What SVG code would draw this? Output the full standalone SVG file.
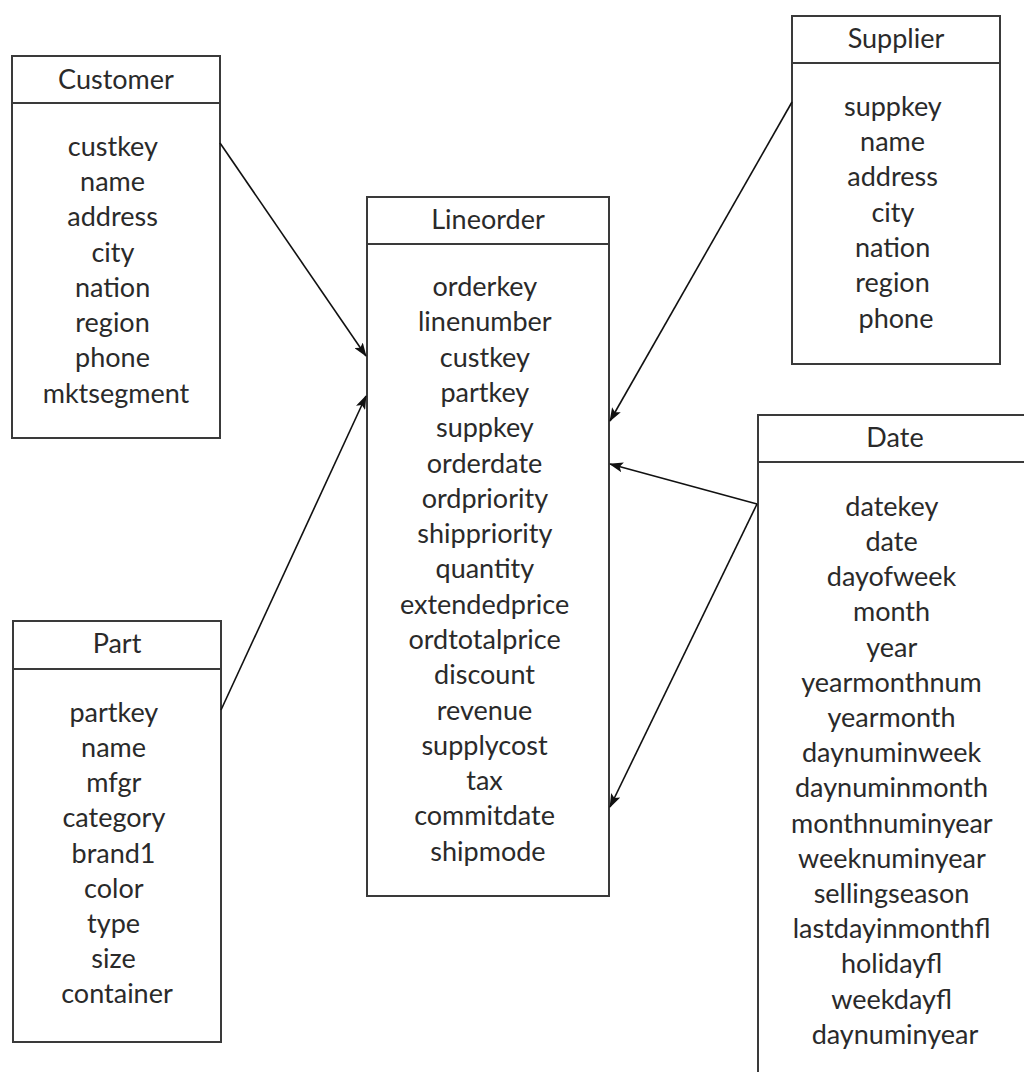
<svg xmlns="http://www.w3.org/2000/svg" width="1024" height="1072" viewBox="0 0 1024 1072">
  <style>
    .box { fill: #ffffff; stroke: #3a3a3a; stroke-width: 2; }
    .div { stroke: #3a3a3a; stroke-width: 2; }
    .t { font-family: Lato, "Liberation Sans", sans-serif; font-size: 27px; fill: #2a2a2a; text-anchor: middle; }
    .link { stroke: #111111; stroke-width: 1.6; fill: none; marker-end: url(#head); }
  </style>
  <defs>
    <marker id="head" viewBox="0 0 14 10" refX="13" refY="5" markerWidth="14" markerHeight="10" markerUnits="userSpaceOnUse" orient="auto">
      <path d="M0,0 L14,5 L0,10 L3,5 z" fill="#111111"/>
    </marker>
  </defs>
  <rect width="1024" height="1072" fill="#ffffff"/>

  <!-- Customer dimension -->
  <g id="customer">
    <rect class="box" x="12" y="56" width="208" height="382"/>
    <line class="div" x1="12" y1="103" x2="220" y2="103"/>
    <text class="t" x="116" y="89">Customer</text>
    <text class="t">
      <tspan x="116" y="155.6">custkey</tspan>
      <tspan x="116" dy="35.3">name</tspan>
      <tspan x="116" dy="35.3">address</tspan>
      <tspan x="116" dy="35.3">city</tspan>
      <tspan x="116" dy="35.3">nation</tspan>
      <tspan x="116" dy="35.3">region</tspan>
      <tspan x="116" dy="35.3">phone</tspan>
      <tspan x="116" dy="35.3">mktsegment</tspan>
    </text>
  </g>

  <!-- Supplier dimension -->
  <g id="supplier">
    <rect class="box" x="792" y="16" width="208" height="348"/>
    <line class="div" x1="792" y1="63" x2="1000" y2="63"/>
    <text class="t" x="896" y="48">Supplier</text>
    <text class="t">
      <tspan x="896" y="115.7">suppkey</tspan>
      <tspan x="896" dy="35.3">name</tspan>
      <tspan x="896" dy="35.3">address</tspan>
      <tspan x="896" dy="35.3">city</tspan>
      <tspan x="896" dy="35.3">nation</tspan>
      <tspan x="896" dy="35.3">region</tspan>
      <tspan x="896" dy="35.3">phone</tspan>
    </text>
  </g>

  <!-- Lineorder fact table -->
  <g id="lineorder">
    <rect class="box" x="367" y="197" width="242" height="699"/>
    <line class="div" x1="367" y1="244" x2="609" y2="244"/>
    <text class="t" x="488" y="229">Lineorder</text>
    <text class="t">
      <tspan x="488" y="296">orderkey</tspan>
      <tspan x="488" dy="35.3">linenumber</tspan>
      <tspan x="488" dy="35.3">custkey</tspan>
      <tspan x="488" dy="35.3">partkey</tspan>
      <tspan x="488" dy="35.3">suppkey</tspan>
      <tspan x="488" dy="35.3">orderdate</tspan>
      <tspan x="488" dy="35.3">ordpriority</tspan>
      <tspan x="488" dy="35.3">shippriority</tspan>
      <tspan x="488" dy="35.3">quantity</tspan>
      <tspan x="488" dy="35.3">extendedprice</tspan>
      <tspan x="488" dy="35.3">ordtotalprice</tspan>
      <tspan x="488" dy="35.3">discount</tspan>
      <tspan x="488" dy="35.3">revenue</tspan>
      <tspan x="488" dy="35.3">supplycost</tspan>
      <tspan x="488" dy="35.3">tax</tspan>
      <tspan x="488" dy="35.3">commitdate</tspan>
      <tspan x="488" dy="35.3">shipmode</tspan>
    </text>
  </g>

  <!-- Date dimension (runs past the right and bottom edges) -->
  <g id="date">
    <rect class="box" x="758" y="415" width="274" height="700"/>
    <line class="div" x1="758" y1="462" x2="1032" y2="462"/>
    <text class="t" x="895" y="447">Date</text>
    <text class="t">
      <tspan x="895" y="515.7">datekey</tspan>
      <tspan x="895" dy="35.2">date</tspan>
      <tspan x="895" dy="35.2">dayofweek</tspan>
      <tspan x="895" dy="35.2">month</tspan>
      <tspan x="895" dy="35.2">year</tspan>
      <tspan x="895" dy="35.2">yearmonthnum</tspan>
      <tspan x="895" dy="35.2">yearmonth</tspan>
      <tspan x="895" dy="35.2">daynuminweek</tspan>
      <tspan x="895" dy="35.2">daynuminmonth</tspan>
      <tspan x="895" dy="35.2">monthnuminyear</tspan>
      <tspan x="895" dy="35.2">weeknuminyear</tspan>
      <tspan x="895" dy="35.2">sellingseason</tspan>
      <tspan x="895" dy="35.2">lastdayinmonthfl</tspan>
      <tspan x="895" dy="35.2">holidayfl</tspan>
      <tspan x="895" dy="35.2">weekdayfl</tspan>
      <tspan x="895" dy="35.2">daynuminyear</tspan>
    </text>
  </g>

  <!-- Part dimension -->
  <g id="part">
    <rect class="box" x="13" y="621" width="208" height="421"/>
    <line class="div" x1="13" y1="669" x2="221" y2="669"/>
    <text class="t" x="117" y="653">Part</text>
    <text class="t">
      <tspan x="117" y="721.7">partkey</tspan>
      <tspan x="117" dy="35.2">name</tspan>
      <tspan x="117" dy="35.2">mfgr</tspan>
      <tspan x="117" dy="35.2">category</tspan>
      <tspan x="117" dy="35.2">brand1</tspan>
      <tspan x="117" dy="35.2">color</tspan>
      <tspan x="117" dy="35.2">type</tspan>
      <tspan x="117" dy="35.2">size</tspan>
      <tspan x="117" dy="35.2">container</tspan>
    </text>
  </g>

  <!-- Foreign-key connectors into the fact table -->
  <g id="connectors">
    <line class="link" x1="220" y1="143" x2="366" y2="356"/>
    <line class="link" x1="221" y1="710" x2="366" y2="396"/>
    <line class="link" x1="792" y1="102" x2="610" y2="421"/>
    <line class="link" x1="757" y1="504" x2="610" y2="464"/>
    <line class="link" x1="757" y1="504" x2="610" y2="807"/>
  </g>
</svg>
